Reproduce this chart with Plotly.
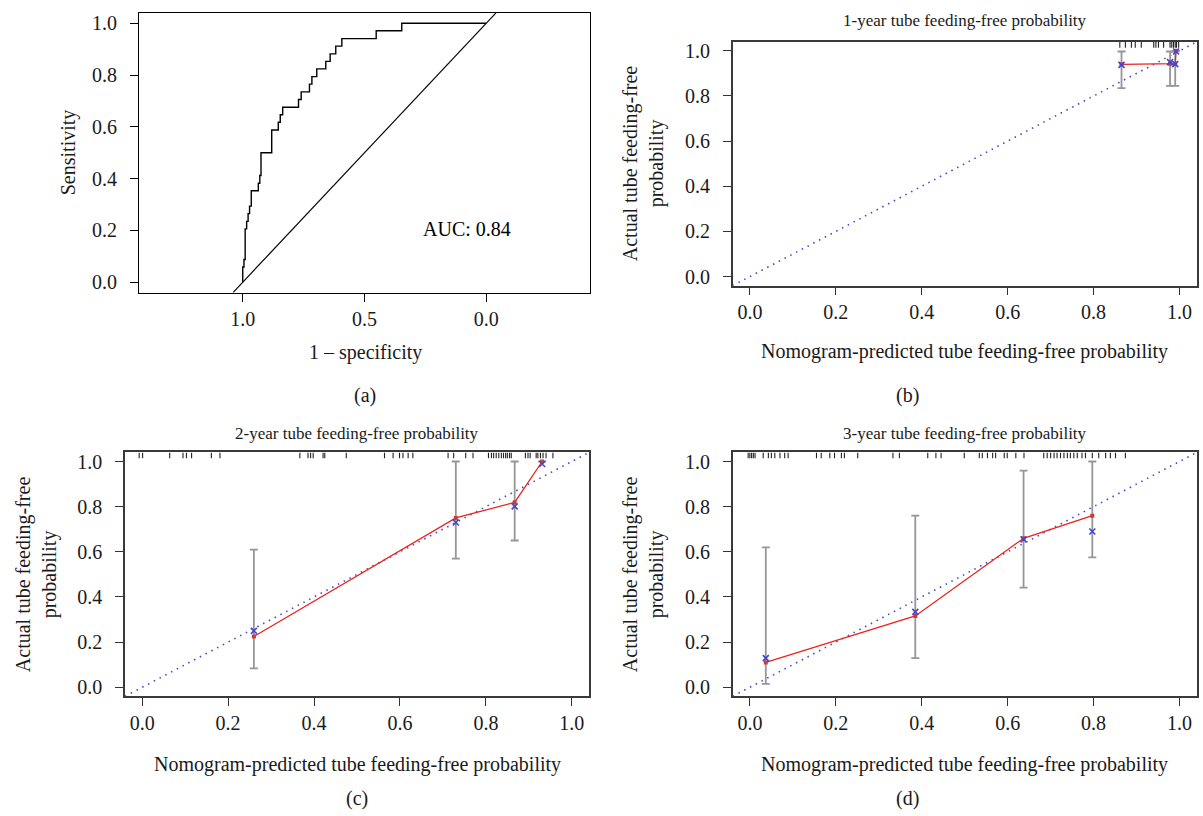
import plotly.graph_objects as go

FONT = "Liberation Serif"

# ---------------- Panel (a): ROC curve ----------------
roc_spec = [1.000, 1.000, 0.995, 0.995, 0.990, 0.990, 0.984, 0.984, 0.978, 0.978,
            0.972, 0.972, 0.965, 0.965, 0.936, 0.936, 0.930, 0.930, 0.925, 0.925,
            0.881, 0.881, 0.854, 0.854, 0.846, 0.846, 0.836, 0.836, 0.771, 0.771,
            0.760, 0.760, 0.726, 0.726, 0.716, 0.716, 0.696, 0.696, 0.659, 0.659,
            0.641, 0.641, 0.618, 0.618, 0.593, 0.593, 0.452, 0.452, 0.347, 0.347, 0.000]
roc_sens = [0.000, 0.059, 0.059, 0.088, 0.088, 0.206, 0.206, 0.235, 0.235, 0.265,
            0.265, 0.294, 0.294, 0.353, 0.353, 0.382, 0.382, 0.412, 0.412, 0.500,
            0.500, 0.588, 0.588, 0.618, 0.618, 0.647, 0.647, 0.676, 0.676, 0.706,
            0.706, 0.735, 0.735, 0.765, 0.765, 0.794, 0.794, 0.824, 0.824, 0.853,
            0.853, 0.882, 0.882, 0.912, 0.912, 0.941, 0.941, 0.971, 0.971, 1.000, 1.000]
auc_label = "AUC: 0.84"
auc_pos = (0.08, 0.207)
roc_xticks = [1.0, 0.5, 0.0]
roc_xticklabels = ["1.0", "0.5", "0.0"]

# ---------------- Panel (b): 1-year calibration ----------------
b_pred = [0.865, 0.978, 0.990, 0.992]
b_obs = [0.940, 0.943, 0.943, 1.000]
b_corr = [0.938, 0.950, 0.941, 0.997]
b_lo = [0.835, 0.845, 0.845, 1.000]
b_hi = [0.997, 0.997, 0.997, 1.000]
b_rug = [0.861, 0.874, 0.888, 0.897, 0.911, 0.940, 0.945, 0.951, 0.963,
         0.978, 0.982, 0.986, 0.990, 0.993, 0.998]

# ---------------- Panel (c): 2-year calibration ----------------
c_pred = [0.260, 0.730, 0.867, 0.931]
c_obs = [0.225, 0.750, 0.819, 1.000]
c_corr = [0.250, 0.730, 0.801, 0.989]
c_lo = [0.084, 0.570, 0.650, 1.000]
c_hi = [0.610, 1.000, 1.000, 1.000]
c_rug = [-0.007, 0.001, 0.064, 0.095, 0.103, 0.115, 0.161, 0.181, 0.367, 0.386,
         0.392, 0.398, 0.421, 0.425, 0.475, 0.564, 0.584, 0.599, 0.607, 0.619,
         0.630, 0.712, 0.725, 0.753, 0.770, 0.806, 0.813, 0.818, 0.824, 0.830,
         0.836, 0.841, 0.846, 0.850, 0.855, 0.859, 0.892, 0.898, 0.903, 0.917,
         0.921, 0.927, 0.933, 0.940, 0.956]

# ---------------- Panel (d): 3-year calibration ----------------
d_pred = [0.037, 0.385, 0.637, 0.797]
d_obs = [0.110, 0.316, 0.660, 0.760]
d_corr = [0.129, 0.334, 0.655, 0.690]
d_lo = [0.015, 0.129, 0.441, 0.575]
d_hi = [0.620, 0.760, 0.960, 1.000]
d_rug = [-0.004, 0.000, 0.004, 0.008, 0.012, 0.031, 0.043, 0.050, 0.058, 0.070,
         0.081, 0.089, 0.155, 0.166, 0.186, 0.197, 0.213, 0.220, 0.251, 0.333,
         0.348, 0.414, 0.433, 0.445, 0.499, 0.534, 0.541, 0.553, 0.565, 0.572,
         0.592, 0.599, 0.619, 0.638, 0.684, 0.692, 0.700, 0.708, 0.715, 0.723,
         0.731, 0.739, 0.746, 0.754, 0.762, 0.773, 0.781, 0.797, 0.812, 0.828,
         0.839, 0.851, 0.874]

panel_titles = ["1-year tube feeding-free probability",
                "2-year tube feeding-free probability",
                "3-year tube feeding-free probability"]
x_title_cal = "Nomogram-predicted tube feeding-free probability"
y_title_cal = "Actual tube feeding-free<br>probability"
panel_letters = ["(a)", "(b)", "(c)", "(d)"]

CAL_RANGE = [-0.04, 1.04]
ROC_XRANGE = [1.426, -0.426]
ROC_YRANGE = [-0.04, 1.04]

W, H = 1203, 816


def px_x(p):
    return p / W


def px_y(p):
    return 1 - p / H


fig = go.Figure()

# ROC chance diagonal (sensitivity = 1 - specificity), across the plotted range
fig.add_trace(go.Scatter(x=[1 - ROC_YRANGE[0], 1 - ROC_YRANGE[1]],
                         y=[ROC_YRANGE[0], ROC_YRANGE[1]], mode="lines",
                         line=dict(color="black", width=1.2), xaxis="x", yaxis="y",
                         showlegend=False, hoverinfo="skip"))
fig.add_trace(go.Scatter(x=roc_spec, y=roc_sens, mode="lines",
                         line=dict(color="black", width=1.4), xaxis="x", yaxis="y",
                         showlegend=False))
fig.add_annotation(x=auc_pos[0], y=auc_pos[1], xref="x", yref="y", text=auc_label,
                   showarrow=False, font=dict(family=FONT, size=20, color="black"))

BLUE = "rgb(70,70,205)"
RED = "rgb(235,35,30)"
GRAY = "rgb(150,150,150)"


def add_cal(pred, obs, corr, lo, hi, rug, xa, ya):
    # ideal line
    fig.add_trace(go.Scatter(x=CAL_RANGE, y=CAL_RANGE, mode="lines",
                             line=dict(color=BLUE, width=1.6, dash="1.5px,5px"),
                             xaxis=xa, yaxis=ya, showlegend=False, hoverinfo="skip"))
    # error bars
    fig.add_trace(go.Scatter(x=pred, y=obs, mode="markers",
                             marker=dict(size=1, color="rgba(0,0,0,0)"),
                             error_y=dict(type="data", symmetric=False,
                                          array=[h - o for h, o in zip(hi, obs)],
                                          arrayminus=[o - l for o, l in zip(obs, lo)],
                                          color=GRAY, thickness=1.8, width=4),
                             xaxis=xa, yaxis=ya, showlegend=False))
    # observed line
    fig.add_trace(go.Scatter(x=pred, y=obs, mode="lines+markers",
                             line=dict(color=RED, width=1.3),
                             marker=dict(symbol="square", size=4, color="rgb(200,60,60)"),
                             xaxis=xa, yaxis=ya, showlegend=False))
    # bias-corrected
    fig.add_trace(go.Scatter(x=pred, y=corr, mode="markers",
                             marker=dict(symbol="x-thin", size=6,
                                         line=dict(color=BLUE, width=1.6)),
                             xaxis=xa, yaxis=ya, showlegend=False))
    # rug
    rx, ry = [], []
    for v in rug:
        rx += [v, v, None]
        ry += [CAL_RANGE[1], CAL_RANGE[1] - 0.026, None]
    fig.add_trace(go.Scatter(x=rx, y=ry, mode="lines", line=dict(color="#222", width=1.1),
                             xaxis=xa, yaxis=ya, showlegend=False, hoverinfo="skip"))


add_cal(b_pred, b_obs, b_corr, b_lo, b_hi, b_rug, "x2", "y2")
add_cal(c_pred, c_obs, c_corr, c_lo, c_hi, c_rug, "x3", "y3")
add_cal(d_pred, d_obs, d_corr, d_lo, d_hi, d_rug, "x4", "y4")

tickfont = dict(family=FONT, size=20, color="#1a1a1a")


def cal_axis(domain, anchor, standoff, lc="#3a3a3a"):
    return dict(domain=domain, anchor=anchor, range=CAL_RANGE, showline=True,
                linecolor=lc, linewidth=1.6, mirror=True, ticks="outside", ticklen=8,
                tickwidth=1.2, tickcolor="#333", showgrid=False, zeroline=False,
                tickfont=tickfont, tick0=0, dtick=0.2, tickformat=".1f",
                ticklabelstandoff=standoff)


XSO, YSO = 0, 9

b_xd = [px_x(732.7), px_x(1196.7)]
c_xd = [px_x(125), px_x(589)]
top_yd = [px_y(285), px_y(40)]
bot_yd = [px_y(697.7), px_y(452.7)]

fig.update_layout(
    width=W, height=H, margin=dict(l=0, r=0, t=0, b=0), autosize=False,
    paper_bgcolor="white", plot_bgcolor="white",
    font=dict(family=FONT, color="#1a1a1a"),
    xaxis=dict(domain=[px_x(139), px_x(590)], anchor="y", range=ROC_XRANGE,
               showline=True, linecolor="black", linewidth=1.2, mirror=True,
               ticks="outside", ticklen=8, tickwidth=1.2, tickcolor="black",
               showgrid=False, zeroline=False, tickvals=roc_xticks,
               ticktext=roc_xticklabels, tickfont=tickfont, ticklabelstandoff=XSO),
    yaxis=dict(domain=[px_y(292), px_y(11)], anchor="x", range=ROC_YRANGE,
               showline=True, linecolor="black", linewidth=1.2, mirror=True,
               ticks="outside", ticklen=8, tickwidth=1.2, tickcolor="black",
               showgrid=False, zeroline=False, tick0=0, dtick=0.2, tickformat=".1f",
               tickfont=tickfont, ticklabelstandoff=YSO),
    xaxis2=cal_axis(b_xd, "y2", XSO), yaxis2=cal_axis(top_yd, "x2", YSO),
    xaxis3=cal_axis(c_xd, "y3", XSO), yaxis3=cal_axis(bot_yd, "x3", YSO),
    xaxis4=cal_axis(b_xd, "y4", XSO), yaxis4=cal_axis(bot_yd, "x4", YSO),
)

ann_font = dict(family=FONT, size=20, color="#1a1a1a")
title_font = dict(family=FONT, size=17, color="#1a1a1a")


def ann(x, y, text, font, angle=0):
    fig.add_annotation(x=px_x(x), y=px_y(y), xref="paper", yref="paper", text=text,
                       showarrow=False, font=font, textangle=angle,
                       xanchor="center", yanchor="middle")


# panel (a)
ann(68, 151, "Sensitivity", ann_font, -90)
ann(365, 352, "1 – specificity", ann_font)
ann(365, 395, panel_letters[0], ann_font)
# panel (b)
ann(965, 19, panel_titles[0], title_font)
ann(643, 162, y_title_cal, ann_font, -90)
ann(964, 351, x_title_cal, ann_font)
ann(907, 395, panel_letters[1], ann_font)
# panel (c)
ann(357, 434, panel_titles[1], title_font)
ann(36, 575, y_title_cal, ann_font, -90)
ann(357, 766, x_title_cal, ann_font)
ann(357, 800, panel_letters[2], ann_font)
# panel (d)
ann(965, 434, panel_titles[2], title_font)
ann(643, 575, y_title_cal, ann_font, -90)
ann(964, 766, x_title_cal, ann_font)
ann(907, 800, panel_letters[3], ann_font)

fig.write_html("out.html",
               config={"displayModeBar": False},
               post_script="document.body.style.margin='0';"
                           "document.body.style.overflow='hidden';")
